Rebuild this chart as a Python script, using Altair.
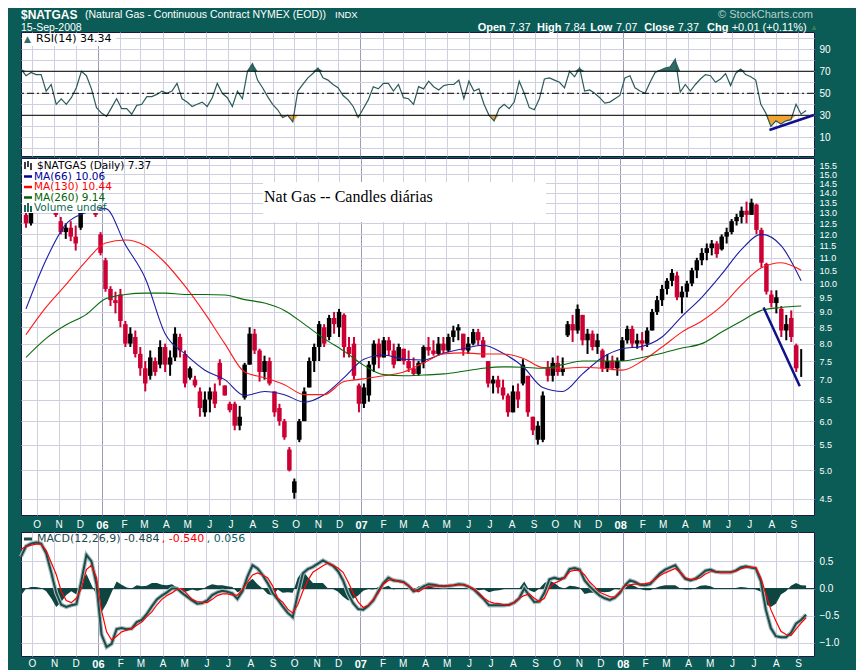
import altair as alt
import pandas as pd

# ---------------- data ----------------
week_start = "2005-09-16"
n_weeks = 157

opens = [12.9,12.5,13.4,13.9,14.2,13.8,13.4,12.6,12.1,12.3,
         11.9,12.3,13.2,14.0,14.4,12.0,10.9,9.8,9.4,9.6,
         8.6,8.0,8.2,7.7,7.3,7.1,7.5,7.4,7.9,7.4,
         7.6,8.2,7.7,7.05,7.0,6.7,6.2,6.5,6.7,7.45,
         6.85,6.4,6.4,5.9,6.55,7.4,8.3,7.8,7.2,7.5,
         6.7,6.3,6.0,5.4,4.6,5.6,6.0,6.8,7.5,7.9,
         8.5,8.2,8.8,8.5,8.9,7.9,8.0,6.85,6.4,6.6,
         7.4,8.0,7.6,8.1,7.8,7.5,7.85,7.5,7.3,7.15,
         7.45,7.9,7.8,7.7,8.0,7.8,8.2,8.4,8.3,7.8,
         8.0,8.35,8.1,7.5,6.9,7.0,6.8,6.6,6.2,6.7,
         6.9,7.1,6.1,5.6,5.6,7.3,7.1,7.45,7.2,8.25,
         8.6,8.4,8.9,8.1,8.3,7.9,7.8,7.3,7.5,7.3,
         7.5,8.1,8.45,8.0,8.1,8.0,8.4,9.0,9.4,9.8,
         10.1,10.3,9.5,9.7,10.0,10.5,10.9,11.2,11.4,11.6,
         11.35,11.9,12.1,12.6,12.8,13.1,12.9,13.4,12.2,10.75,
         9.6,9.3,9.1,8.4,8.8,7.95,7.37]
highs = [13.1,13.2,14.2,14.6,14.5,14.0,13.6,12.8,12.5,12.6,
         12.4,13.1,14.4,15.0,14.6,12.1,11.0,9.9,9.7,9.8,
         8.7,8.5,8.4,7.9,7.5,7.8,7.6,8.1,8.0,7.8,
         8.5,8.3,7.8,7.35,7.1,6.8,6.7,6.8,6.9,7.55,
         6.85,6.45,6.45,6.35,7.45,8.5,8.45,7.85,7.65,7.6,
         6.7,6.4,6.05,5.45,4.85,6.05,6.8,7.6,8.0,8.7,
         8.6,8.9,9.0,9.1,8.95,8.2,8.2,6.9,6.9,7.5,
         8.1,8.15,8.2,8.2,8.0,8.0,7.85,7.8,7.6,7.5,
         7.95,8.2,8.1,8.2,8.2,8.3,8.55,8.6,8.3,8.2,
         8.45,8.45,8.2,7.5,7.1,7.1,7.0,6.65,6.85,6.9,
         7.55,7.1,6.1,6.0,6.7,7.5,7.6,7.65,7.6,8.7,
         8.9,9.25,8.9,8.45,8.4,8.3,7.85,7.7,7.65,7.6,
         8.2,8.55,8.55,8.3,8.35,8.5,9.1,9.55,9.95,10.2,
         10.55,10.45,9.9,10.1,10.6,11.0,11.4,11.6,11.75,11.7,
         12.0,12.3,12.7,12.95,13.3,13.55,13.7,13.45,12.3,10.8,
         9.75,9.75,9.2,8.9,9.05,8.0,7.84]
lows = [12.3,12.4,13.3,13.6,13.5,13.2,12.8,12.0,11.8,11.7,
        11.3,12.2,13.2,13.6,12.8,11.1,9.7,9.2,8.95,8.5,
        7.9,7.9,7.6,7.1,6.7,7.0,7.1,7.3,7.2,7.1,
        7.5,7.6,6.8,7.0,6.8,6.1,6.1,6.2,6.3,6.85,
        6.6,6.2,5.8,5.8,6.5,7.4,7.7,6.95,7.0,6.85,
        6.1,5.9,5.6,4.98,4.5,5.55,6.0,6.8,7.2,7.5,
        7.9,8.1,8.3,8.2,7.6,7.6,7.0,6.2,6.3,6.45,
        7.2,7.3,7.6,7.65,7.3,7.5,7.4,7.2,7.1,7.1,
        7.3,7.65,7.65,7.65,7.7,7.75,8.05,8.1,7.65,7.7,
        7.95,7.95,7.6,6.8,6.65,6.65,6.5,6.1,6.2,6.3,
        6.85,6.1,5.7,5.5,5.55,6.95,6.95,7.1,7.1,8.2,
        8.05,8.3,7.95,7.7,7.8,7.7,7.2,7.2,7.25,7.1,
        7.5,8.0,7.9,7.85,7.8,7.9,8.4,8.9,9.2,9.6,
        9.9,9.4,8.95,9.5,9.9,10.2,10.7,10.9,11.1,11.0,
        11.3,11.6,12.0,12.4,12.5,12.5,12.9,12.0,10.6,9.6,
        9.15,8.95,8.2,8.1,8.05,7.2,7.07]
closes = [12.5,13.0,13.9,14.3,13.8,13.4,12.9,12.1,12.3,11.9,
          11.6,13.0,14.0,14.5,12.9,11.2,9.8,9.4,9.3,8.7,
          8.0,8.3,7.7,7.3,6.9,7.6,7.2,7.9,7.4,7.6,
          8.3,7.8,6.9,7.3,6.85,6.3,6.5,6.7,6.4,7.0,
          6.6,6.25,5.9,6.1,7.4,8.3,7.8,7.2,7.5,6.9,
          6.2,6.0,5.65,5.0,4.8,6.0,6.7,7.5,7.9,8.6,
          8.0,8.8,8.6,9.0,7.9,7.7,7.1,6.4,6.8,7.4,
          8.0,7.6,8.1,7.8,7.4,7.9,7.5,7.3,7.15,7.45,
          7.9,7.8,7.7,8.0,7.8,8.2,8.4,8.5,7.8,8.0,
          8.35,8.1,7.6,6.9,7.0,6.8,6.6,6.2,6.7,6.5,
          7.4,6.2,5.8,5.9,6.6,7.1,7.45,7.2,7.3,8.6,
          8.4,9.1,8.1,8.3,7.9,8.1,7.3,7.5,7.3,7.5,
          8.1,8.45,8.0,8.1,8.0,8.4,9.0,9.4,9.8,10.1,
          10.4,9.5,9.7,10.0,10.5,10.9,11.2,11.4,11.6,11.15,
          11.9,12.1,12.6,12.8,13.1,12.9,13.5,12.2,10.8,9.7,
          9.3,9.5,8.4,8.6,8.2,7.3,7.37]

rsi_vals = [72,66,69,67,67,52,58,40,45,40,
            46,55,70,66,54,37,32,29,37,45,
            36,36,31,39,40,47,47,49,52,50,
            52,59,45,42,38,40,42,38,46,59,
            50,46,38,52,45,70,77,62,55,47,
            40,35,28,30,24,52,58,64,68,73,
            64,62,58,55,48,44,38,28,36,44,
            56,54,59,59,52,58,46,45,40,56,
            54,61,56,53,57,58,58,62,45,61,
            52,54,40,30,25,36,40,36,42,61,
            50,37,35,45,63,64,62,60,55,70,
            65,73,52,53,50,46,41,42,45,48,
            64,66,55,52,50,60,69,71,73,74,
            81,51,58,52,58,63,67,66,60,63,
            68,57,68,72,67,65,62,40,32,20,
            25,22,25,26,40,31,34.34]

macd_vals = [0.59,0.78,0.83,0.85,0.83,0.65,0.3,-0.08,-0.3,-0.34,
             -0.31,-0.29,0.14,0.62,0.5,0.08,-0.85,-1.08,-1.02,-0.75,
             -0.73,-0.75,-0.74,-0.62,-0.58,-0.47,-0.33,-0.2,-0.13,-0.07,
             0.0,0.0,-0.08,-0.15,-0.22,-0.28,-0.27,-0.22,-0.12,-0.07,
             -0.04,-0.06,-0.09,-0.19,-0.05,0.22,0.43,0.37,0.25,0.1,
             -0.08,-0.2,-0.33,-0.45,-0.53,-0.1,0.28,0.36,0.4,0.46,
             0.52,0.47,0.42,0.32,0.15,-0.1,-0.27,-0.38,-0.39,-0.32,
             -0.22,-0.05,0.1,0.2,0.15,0.14,0.12,0.05,-0.05,-0.02,
             0.04,0.08,0.07,0.05,0.04,0.05,0.06,0.08,0.07,0.03,
             -0.02,-0.11,-0.2,-0.31,-0.31,-0.31,-0.31,-0.3,-0.26,-0.18,
             0.0,-0.13,-0.25,-0.24,-0.08,0.17,0.2,0.17,0.2,0.36,
             0.38,0.35,0.15,0.04,-0.05,-0.13,-0.18,-0.21,-0.17,-0.08,
             0.06,0.15,0.12,0.07,0.06,0.08,0.18,0.28,0.35,0.39,
             0.43,0.3,0.18,0.15,0.18,0.25,0.33,0.35,0.31,0.3,
             0.3,0.3,0.33,0.39,0.41,0.39,0.37,0.14,-0.39,-0.73,
             -0.88,-0.9,-0.9,-0.82,-0.65,-0.58,-0.484]

signal_vals = [0.72,0.78,0.8,0.82,0.82,0.7,0.48,0.26,-0.05,-0.22,
               -0.26,-0.18,0.0,0.35,0.43,0.2,-0.41,-0.8,-0.95,-0.88,
               -0.8,-0.77,-0.74,-0.68,-0.62,-0.52,-0.43,-0.3,-0.2,-0.13,
               -0.08,-0.02,0.0,-0.1,-0.2,-0.24,-0.25,-0.26,-0.2,-0.13,
               -0.1,-0.1,-0.12,-0.12,-0.02,0.12,0.25,0.29,0.25,0.2,
               0.05,-0.18,-0.25,-0.38,-0.45,-0.3,-0.05,0.15,0.3,0.36,
               0.42,0.47,0.43,0.38,0.3,0.12,-0.08,-0.25,-0.35,-0.31,
               -0.2,-0.08,0.08,0.15,0.17,0.13,0.11,0.05,-0.02,-0.06,
               0.0,0.04,0.05,0.04,0.05,0.05,0.06,0.07,0.07,0.04,
               -0.01,-0.08,-0.18,-0.24,-0.27,-0.28,-0.3,-0.31,-0.26,-0.18,
               -0.13,-0.1,-0.18,-0.24,-0.18,0.02,0.1,0.14,0.2,0.31,
               0.34,0.33,0.25,0.12,0.03,-0.07,-0.11,-0.15,-0.16,-0.06,
               0.05,0.07,0.08,0.08,0.09,0.11,0.17,0.24,0.29,0.33,
               0.37,0.3,0.2,0.17,0.17,0.2,0.27,0.31,0.31,0.3,
               0.3,0.3,0.32,0.36,0.39,0.39,0.39,0.2,-0.1,-0.39,
               -0.6,-0.79,-0.85,-0.87,-0.75,-0.64,-0.54]

# moving averages, one reading every 4 weeks
ma66 = [9.1,10.9,12.45,13.0,13.2,11.55,10.2,8.3,7.7,7.25,
        7.0,6.6,6.7,6.62,6.44,6.62,7.05,7.55,7.67,7.55,
        7.53,7.72,7.85,7.95,7.72,7.35,6.8,6.7,7.15,7.6,
        7.85,7.92,8.2,8.85,9.5,10.35,11.35,12.0,11.5,10.1]
ma130 = [8.27,9.15,9.95,10.85,11.62,11.75,11.5,10.8,9.9,8.95,
         8.0,7.2,7.05,6.87,6.62,6.62,6.95,7.02,7.1,7.2,
         7.45,7.7,7.73,7.7,7.7,7.58,7.32,7.3,7.33,7.3,
         7.25,7.5,7.9,8.35,8.7,9.2,9.95,10.6,10.8,10.5]
ma260 = [7.6,8.15,8.57,8.9,9.45,9.6,9.65,9.65,9.6,9.6,
         9.58,9.42,9.3,9.05,8.6,8.15,7.78,7.38,7.13,7.1,
         7.12,7.15,7.22,7.3,7.34,7.33,7.3,7.4,7.5,7.5,
         7.5,7.6,7.72,7.87,8.0,8.35,8.7,9.05,9.15,9.2]

price_trend_dates = ["2008-07-21", "2008-09-10"]
price_trend_vals = [9.15, 6.83]
rsi_trend_dates = ["2008-07-23", "2008-09-23"]
rsi_trend_vals = [16.6, 30.3]

price_ticks = [4.5,5.0,5.5,6.0,6.5,7.0,7.5,8.0,8.5,9.0,9.5,10.0,
               10.5,11.0,11.5,12.0,12.5,13.0,13.5,14.0,14.5,15.0,15.5]
rsi_ticks = [0,10,20,30,40,50,60,70,80,90,100]
macd_ticks = [-1.0,-0.5,0.0,0.5]

# ---------------- styling ----------------
TEAL = "#0b5c57"
GRID = "#cfcfe0"
YEARGRID = "#9c9cba"
LEG = "DejaVu Sans"
AX = "Liberation Sans"
W = 793

weeks = pd.date_range(week_start, periods=n_weeks, freq="7D")
df = pd.DataFrame({"date": weeks, "o": opens, "h": highs, "l": lows, "c": closes,
                   "rsi": rsi_vals, "macd": macd_vals, "sig": signal_vals})
df["dir"] = ["up" if c >= o else "down" for o, c in zip(opens, closes)]
ma_df = pd.DataFrame({"date": weeks[::4], "ma66": ma66, "ma130": ma130, "ma260": ma260})
ptrend = pd.DataFrame({"date": pd.to_datetime(price_trend_dates), "v": price_trend_vals})
rtrend = pd.DataFrame({"date": pd.to_datetime(rsi_trend_dates), "v": rsi_trend_vals})

XSCALE = alt.Scale(domain=[alt.DateTime(year=2005, month=9, date=16),
                           alt.DateTime(year=2008, month=9, date=23)])
is_year = "month(datum.value) == 0"
grid_color = {"condition": {"test": is_year, "value": YEARGRID}, "value": GRID}


def x_axis(labels=True, pad=4):
    if labels:
        return alt.Axis(title=None, tickCount={"interval": "month", "step": 1}, grid=True,
                        gridColor=grid_color, ticks=False, domain=False,
                        labelExpr=("month(datum.value) == 0 ? timeFormat(datum.value, '%y') : "
                                   "slice(timeFormat(datum.value, '%b'), 0, 1)"),
                        labelColor="white", labelFont=AX,
                        labelFontSize={"condition": {"test": is_year, "value": 11}, "value": 10},
                        labelFontWeight={"condition": {"test": is_year, "value": "bold"}, "value": "normal"},
                        labelFlush=False, labelOverlap=False, labelPadding=pad)
    return alt.Axis(title=None, tickCount={"interval": "month", "step": 1}, grid=True,
                    gridColor=grid_color, ticks=False, domain=False, labels=False)


def X(labels=True, pad=4):
    return alt.X("date:T", scale=XSCALE, axis=x_axis(labels, pad))


PSCALE = alt.Scale(type="log", domain=[4.236, 15.93], nice=False)
PAXIS = alt.Axis(title=None, orient="right", values=price_ticks, format=".1f", ticks=False,
                 domain=False, gridColor=GRID, labelColor="white", labelFont=AX,
                 labelFontSize=9, labelOverlap=False, labelPadding=5)
RSCALE = alt.Scale(domain=[-7, 105.7], nice=False)
RAXIS = alt.Axis(title=None, orient="right", values=rsi_ticks, ticks=False, domain=False,
                 gridColor=GRID, labelColor="white", labelFont=AX, labelFontSize=10,
                 labelExpr="datum.value % 20 == 10 ? datum.label : ''", labelPadding=5)
MSCALE = alt.Scale(domain=[-1.246, 1.044], nice=False)
MAXIS = alt.Axis(title=None, orient="right", values=macd_ticks, format=".1f", ticks=False,
                 domain=False, gridColor=GRID, labelColor="white", labelFont=AX,
                 labelFontSize=10, labelPadding=5)


def PY(f):
    return alt.Y(f, type="quantitative", scale=PSCALE, axis=PAXIS)


def RY(f):
    return alt.Y(f, type="quantitative", scale=RSCALE, axis=RAXIS)


def MY(f):
    return alt.Y(f, type="quantitative", scale=MSCALE, axis=MAXIS)


def txt(s, x, y, color="black", size=10.5, weight="normal", font=LEG, align="left", baseline="middle"):
    return alt.Chart(alt.Data(values=[{"t": s}])).mark_text(
        align=align, baseline=baseline, font=font, fontSize=size, fontWeight=weight, color=color
    ).encode(x=alt.value(x), y=alt.value(y), text="t:N")


def seg(x1, x2, y1, y2, color, width):
    return alt.Chart(alt.Data(values=[{"k": 1}])).mark_rule(color=color, strokeWidth=width).encode(
        x=alt.value(x1), x2=alt.value(x2), y=alt.value(y1), y2=alt.value(y2))


def box(x1, x2, y1, y2, color="white"):
    return alt.Chart(alt.Data(values=[{"k": 1}])).mark_rect(color=color).encode(
        x=alt.value(x1), x2=alt.value(x2), y=alt.value(y1), y2=alt.value(y2))


# ---------------- RSI panel ----------------
rbase = alt.Chart(df).encode(x=X(False))
r_ob = rbase.transform_calculate(ob="max(datum.rsi, 70)").mark_area(color="#2e6b66").encode(
    y=RY("ob"), y2=alt.datum(70))
r_os = rbase.transform_calculate(os="min(datum.rsi, 30)").mark_area(color="#f2a431").encode(
    y=RY("os"), y2=alt.datum(30))
r_line = rbase.mark_line(color="#2c5a5a", strokeWidth=1.2).encode(y=RY("rsi"))
r_levels = alt.Chart(pd.DataFrame({"v": [70, 30]})).mark_rule(color="black", strokeWidth=1).encode(
    y=RY("v"))
r_mid = alt.Chart(pd.DataFrame({"v": [50]})).mark_rule(
    color="black", strokeWidth=1, strokeDash=[7, 3, 2, 3]).encode(y=RY("v"))
r_trend = alt.Chart(rtrend).mark_line(color="#10108a", strokeWidth=2.5).encode(x=X(False), y=RY("v"))

R1 = -17
R2 = -4.5
header = [
    txt("$NATGAS", 0, R1, "white", 12, "bold", AX),
    txt("(Natural Gas - Continuous Contract NYMEX (EOD))", 64, R1, "white", 10.5, "normal", AX),
    txt("INDX", 314, R1, "white", 9.5, "normal", AX),
    txt("15-Sep-2008", 0, R2, "white", 10.5, "normal", AX),
    txt("\u00a9 StockCharts.com", 792, R1, "#b9cfcd", 11, "normal", AX, align="right"),
    txt("Open", 456.7, R2, "white", 11, "bold", AX),
    txt("7.37", 488.3, R2, "white", 11, "normal", AX),
    txt("High", 516, R2, "white", 11, "bold", AX),
    txt("7.84", 543.3, R2, "white", 11, "normal", AX),
    txt("Low", 569.3, R2, "white", 11, "bold", AX),
    txt("7.07", 595, R2, "white", 11, "normal", AX),
    txt("Close", 623.3, R2, "white", 11, "bold", AX),
    txt("7.37", 656.7, R2, "white", 11, "normal", AX),
    txt("Chg", 686, R2, "white", 11, "bold", AX),
    txt("+0.01 (+0.11%)", 710.7, R2, "white", 11, "normal", AX),
    txt("\u25b2", 789, R2, "#3d7a52", 8, "normal", AX),
]
rsi_panel = alt.layer(
    r_ob, r_os, r_line, r_levels, r_mid, r_trend,
    box(1, 95, 1, 14),
    txt("\u25b2", 3, 7, "#2e6b66", 9),
    txt("RSI(14) 34.34", 15, 7, "black", 11),
    *header,
).properties(width=W, height=124)

# ---------------- price panel ----------------
pbase = alt.Chart(df).encode(
    x=X(True, 4),
    color=alt.Color("dir:N", scale=alt.Scale(domain=["up", "down"], range=["#000000", "#cc0033"]),
                    legend=None))
wicks = pbase.mark_rule(strokeWidth=2).encode(y=PY("l"), y2=alt.Y2("h"))
bodies = pbase.mark_bar(size=4.5).encode(y=PY("o"), y2=alt.Y2("c"))
mbase = alt.Chart(ma_df).encode(x=X(True, 4))
l66 = mbase.mark_line(color="#1c1ca6", strokeWidth=1.1, interpolate="monotone").encode(y=PY("ma66"))
l130 = mbase.mark_line(color="#ff1a1a", strokeWidth=1.1, interpolate="monotone").encode(y=PY("ma130"))
l260 = mbase.mark_line(color="#0a6a0a", strokeWidth=1.1, interpolate="monotone").encode(y=PY("ma260"))
p_trend = alt.Chart(ptrend).mark_line(color="#10108a", strokeWidth=2.5).encode(x=X(True, 4), y=PY("v"))

price_panel = alt.layer(
    wicks, bodies, l66, l130, l260, p_trend,
    box(1, 78, 1, 55),
    seg(4, 4, 4, 11, "black", 1.5), seg(7, 7, 3, 9, "black", 1.5), seg(10, 10, 5, 12, "black", 1.5),
    txt("$NATGAS (Daily) 7.37", 16, 8),
    seg(3, 11, 18.5, 18.5, "#000099", 2.5),
    txt("MA(66) 10.06", 13, 18.5, "#000099"),
    seg(3, 11, 29, 29, "#ff0000", 2.5),
    txt("MA(130) 10.44", 13, 29, "#ff0000"),
    seg(3, 11, 39.5, 39.5, "#006400", 2.5),
    txt("MA(260) 9.14", 13, 39.5, "#006400"),
    seg(4, 4, 47, 54, "#1c6a5a", 2), seg(7, 7, 45, 54, "#1c6a5a", 2), seg(10, 10, 48, 54, "#1c6a5a", 2),
    txt("Volume undef", 13, 50, "#0e6a55"),
    box(242, 525, 24, 64),
    txt("Nat Gas -- Candles di\u00e1rias", 243, 44, "black", 16, "normal", "Liberation Serif",
        baseline="alphabetic"),
).properties(width=W, height=357)

# ---------------- MACD panel ----------------
mdf = alt.Chart(df).encode(x=X(True, 2))
hist = mdf.transform_calculate(hist="datum.macd - datum.sig").mark_area(color="#0f4541").encode(
    y=MY("hist"), y2=alt.datum(0))
zero = alt.Chart(pd.DataFrame({"v": [0]})).mark_rule(color="#0f4541", strokeWidth=1).encode(y=MY("v"))
m_halo = mdf.mark_line(color="#a6bcbc", strokeWidth=4.2).encode(y=MY("macd"))
m_line = mdf.mark_line(color="#1d4a4a", strokeWidth=2).encode(y=MY("macd"))
s_line = mdf.mark_line(color="#ff0000", strokeWidth=1.2).encode(y=MY("sig"))

macd_panel = alt.layer(
    hist, zero, m_halo, m_line, s_line,
    seg(3, 11, 7, 7, "#1d4a4a", 3),
    txt("MACD(12,26,9) -0.484", 16, 7, "#1d4a4a", 11),
    txt(", -0.540", 140.7, 7, "#ff0000", 11),
    txt(", 0.056", 185.7, 7, "#0d6060", 11),
).properties(width=W, height=124)

chart = alt.vconcat(rsi_panel, price_panel, macd_panel, spacing=0).properties(
    background=TEAL,
    padding={"left": 4, "top": 0, "right": 16, "bottom": 2},
).configure_view(fill="white", stroke="#1a1a48", strokeWidth=1)

chart.save("out.html", embed_options={"renderer": "svg", "actions": False})
